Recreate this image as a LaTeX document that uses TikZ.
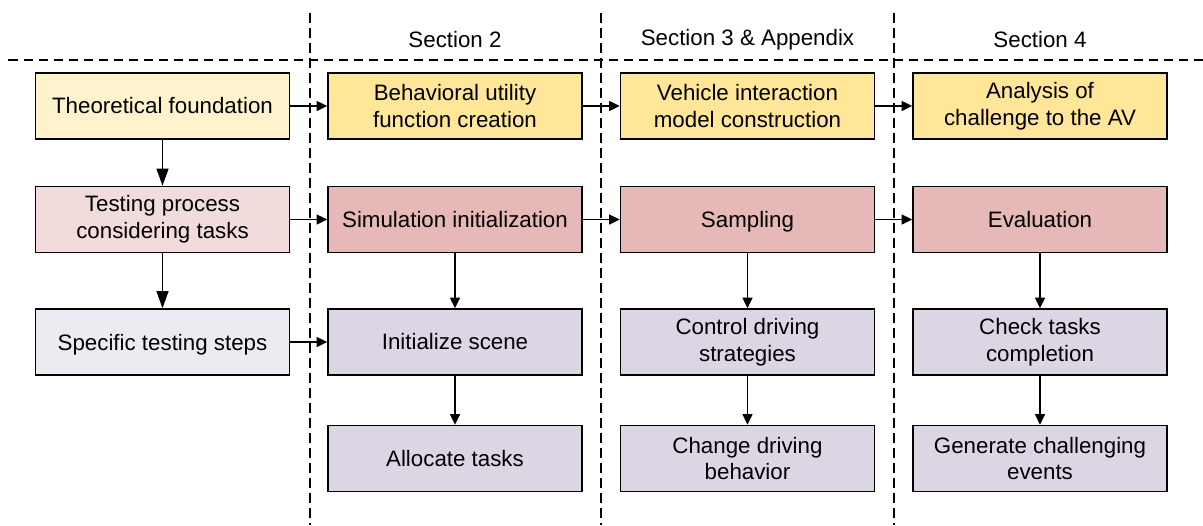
\documentclass[tikz,border=0pt]{standalone}
\usepackage{fontspec}
\setmainfont{Liberation Sans}
\usetikzlibrary{arrows.meta,shapes}
\definecolor{ylwA}{HTML}{FFF2CC}
\definecolor{ylwB}{HTML}{FFE699}
\definecolor{redA}{HTML}{F2DCDB}
\definecolor{redB}{HTML}{E6B8B7}
\definecolor{purA}{HTML}{EDEAF2}
\definecolor{purB}{HTML}{DCD6E4}
\newcommand{\nodp}[1]{\raisebox{0pt}[\height][0pt]{#1}}
\tikzstyle{sbox}=[rectangle,draw=black,line width=1pt,minimum width=5.08cm,minimum height=1.32cm,inner sep=0pt,align=center,font=\fontsize{12.7}{15.3}\selectfont]
\tikzstyle{sep}=[-,line width=0.7pt,dash pattern=on 0.19cm off 0.11cm]
\tikzstyle{flow}=[-{Triangle[length=2.1mm,width=2mm]}, line width=0.75pt]
\tikzstyle{bflow}=[-{Triangle[length=3.4mm,width=2.4mm]}, line width=0.75pt]

\begin{document}
\begin{tikzpicture}[flow]
\useasboundingbox (0,0) rectangle (24.06,-10.5);
% section separators
\draw[sep](0.17,-1.2)--(24.06,-1.2);
\draw[sep](6.2,-0.26)--(6.2,-10.5);\draw[sep](12.02,-0.26)--(12.02,-10.5);\draw[sep](17.88,-0.26)--(17.88,-10.5);
\node[font=\fontsize{12.7}{15.3}\selectfont] (S2) at (9.1,-0.8) {Section 2};
\node[font=\fontsize{12.7}{15.3}\selectfont] (S3) at (14.95,-0.8) {Section 3 \& Appendix};
\node[font=\fontsize{12.7}{15.3}\selectfont] (S4) at (20.8,-0.8) {Section 4};
% overview column
\node[sbox,fill=ylwA] (Th) at (3.25,-2.12) {Theoretical foundation};
\node[sbox,fill=redA] (Tp) at (3.25,-4.39) {Testing process\\considering tasks};
\node[sbox,fill=purA] (Ts) at (3.25,-6.84) {\nodp{Specific testing steps}};
% section 2
\node[sbox,fill=ylwB] (Bu) at (9.1,-2.12) {Behavioral utility\\function creation};
\node[sbox,fill=redB] (Si) at (9.1,-4.39) {Simulation initialization};
\node[sbox,fill=purB] (Is) at (9.1,-6.84) {Initialize scene};
\node[sbox,fill=purB] (At) at (9.1,-9.17) {Allocate tasks};
% section 3
\node[sbox,fill=ylwB] (Vi) at (14.95,-2.12) {Vehicle interaction\\model construction};
\node[sbox,fill=redB] (Sa) at (14.95,-4.39) {\nodp{Sampling}};
\node[sbox,fill=purB] (Cd) at (14.95,-6.84) {Control driving\\strategies};
\node[sbox,fill=purB] (Cb) at (14.95,-9.17) {Change driving\\behavior};
% section 4
\node[sbox,fill=ylwB] (An) at (20.8,-2.12) {Analysis of\\challenge to the AV};
\node[sbox,fill=redB] (Ev) at (20.8,-4.39) {Evaluation};
\node[sbox,fill=purB] (Ct) at (20.8,-6.84) {Check tasks\\completion};
\node[sbox,fill=purB] (Ge) at (20.8,-9.17) {Generate challenging\\events};
\draw[bflow](Th)--(Tp);\draw[bflow](Tp)--(Ts);
\draw(Th)--(Bu);\draw(Bu)--(Vi);\draw(Vi)--(An);
\draw(Tp)--(Si);\draw(Si)--(Sa);\draw(Sa)--(Ev);
\draw(Ts)--(Is);
\draw(Si)--(Is);\draw(Is)--(At);
\draw(Sa)--(Cd);\draw(Cd)--(Cb);
\draw(Ev)--(Ct);\draw(Ct)--(Ge);
\end{tikzpicture}
\end{document}
